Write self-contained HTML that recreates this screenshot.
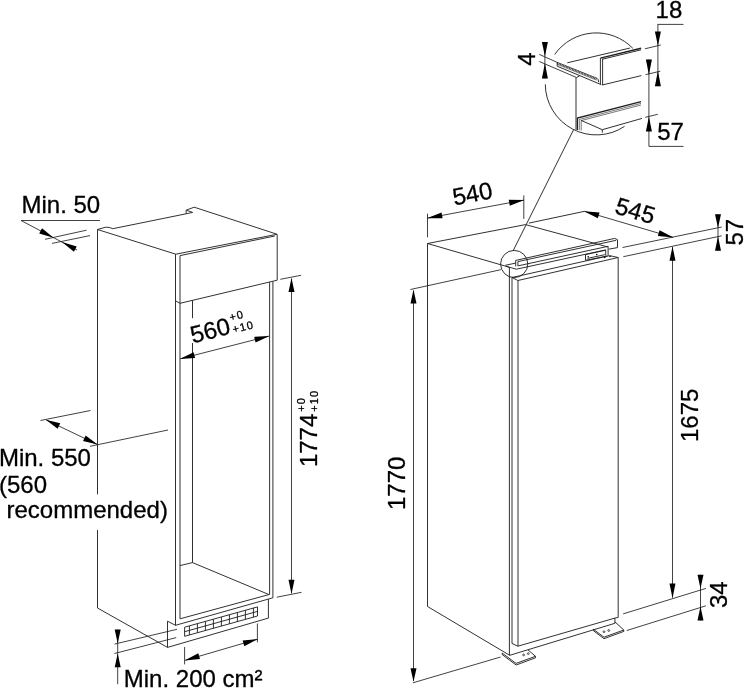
<!DOCTYPE html>
<html><head><meta charset="utf-8"><title>Installation dimensions</title>
<style>
html,body{margin:0;padding:0;background:#fff}
svg{display:block}
svg line,svg polyline,svg polygon,svg circle,svg path{stroke:#1e1e1e;stroke-width:0.92;fill:none;stroke-linecap:butt}
svg .d{stroke-width:0.84}
svg .a{fill:#000;stroke:none}
svg text{font-family:"Liberation Sans",Arial,Helvetica,sans-serif;font-size:24px;fill:#000;stroke:#000;stroke-width:0.3px;stroke-linejoin:round}
</style></head><body>
<svg width="744" height="688" viewBox="0 0 744 688" style="filter:grayscale(1)">
<rect x="0" y="0" width="744" height="688" fill="#fff" stroke="none"/>
<line x1="97.50" y1="229.50" x2="97.50" y2="494.40"/>
<line x1="97.50" y1="530.00" x2="97.50" y2="608.00"/>
<polyline points="97.50,229.50 105.80,227.20 109.20,227.40 112.80,228.70 186.10,213.80 186.10,210.20 194.20,207.20 276.90,234.20"/>
<polyline points="186.10,213.80 192.60,212.40 186.60,210.30"/>
<line x1="97.50" y1="229.50" x2="175.80" y2="254.20"/>
<line x1="175.80" y1="254.20" x2="276.90" y2="234.30"/>
<line x1="180.10" y1="255.60" x2="274.80" y2="236.00"/>
<line x1="277.20" y1="234.30" x2="277.20" y2="280.20"/>
<polyline points="175.80,301.00 180.10,303.30 277.20,280.20"/>
<line x1="175.50" y1="254.20" x2="175.50" y2="625.30"/>
<line x1="180.00" y1="255.60" x2="180.00" y2="618.80"/>
<line x1="269.60" y1="282.20" x2="269.60" y2="594.50"/>
<line x1="272.90" y1="281.40" x2="272.90" y2="597.80"/>
<line x1="192.50" y1="300.30" x2="192.50" y2="318.20"/>
<line x1="192.50" y1="343.00" x2="192.50" y2="562.60"/>
<line x1="180.00" y1="565.60" x2="192.50" y2="562.60"/>
<line x1="192.50" y1="562.60" x2="268.80" y2="594.50"/>
<line x1="180.00" y1="618.80" x2="269.60" y2="594.40"/>
<line x1="175.50" y1="625.30" x2="272.90" y2="597.80"/>
<polyline points="175.50,625.30 167.50,621.20 167.50,647.40"/>
<line x1="167.50" y1="647.40" x2="268.40" y2="618.10"/>
<line x1="268.40" y1="599.10" x2="268.40" y2="618.10"/>
<line x1="97.50" y1="608.00" x2="167.50" y2="647.40"/>
<polygon points="184.60,627.20 257.50,606.90 257.50,616.00 184.60,636.30"/>
<line x1="184.60" y1="631.70" x2="257.50" y2="611.40"/>
<line x1="189.40" y1="625.86" x2="189.40" y2="634.96"/>
<line x1="197.40" y1="623.64" x2="197.40" y2="632.74"/>
<line x1="205.40" y1="621.41" x2="205.40" y2="630.51"/>
<line x1="213.40" y1="619.18" x2="213.40" y2="628.28"/>
<line x1="221.40" y1="616.95" x2="221.40" y2="626.05"/>
<line x1="229.40" y1="614.72" x2="229.40" y2="623.82"/>
<line x1="237.40" y1="612.50" x2="237.40" y2="621.60"/>
<line x1="245.40" y1="610.27" x2="245.40" y2="619.37"/>
<line x1="253.40" y1="608.04" x2="253.40" y2="617.14"/>
<text x="21.50" y="212.50">Min. 50</text>
<line x1="21.00" y1="220.50" x2="100.00" y2="220.50" class="d"/>
<line x1="21.00" y1="220.50" x2="77.00" y2="250.00" class="d"/>
<polygon class="a" points="53.53,237.68 39.22,233.52 42.02,228.21"/>
<polygon class="a" points="61.97,242.12 76.72,246.52 73.92,251.82"/>
<line x1="45.00" y1="239.30" x2="86.50" y2="230.20" class="d"/>
<line x1="52.00" y1="243.40" x2="90.00" y2="235.60" class="d"/>
<line x1="180.30" y1="358.80" x2="268.90" y2="336.10" class="d"/>
<polygon class="a" points="179.72,358.95 193.60,352.30 195.09,358.11"/>
<polygon class="a" points="269.48,335.95 255.60,342.60 254.11,336.79"/>
<g transform="translate(192.80 343.50) rotate(-14.4)"><text x="0" y="0">560</text><text x="42.0" y="-12.3" style="font-size:11px;letter-spacing:1.1px">+0</text><text x="42.0" y="0.3" style="font-size:11px;letter-spacing:1.1px">+10</text></g>
<line x1="291.50" y1="278.50" x2="291.50" y2="593.30" class="d"/>
<polygon class="a" points="291.50,278.10 294.50,292.00 288.50,292.00"/>
<polygon class="a" points="291.50,593.90 288.50,579.80 294.50,579.80"/>
<line x1="280.30" y1="279.30" x2="301.10" y2="275.30" class="d"/>
<line x1="276.80" y1="597.20" x2="301.50" y2="592.30" class="d"/>
<g transform="translate(317.30 467.10) rotate(-90)"><text x="0" y="0">1774</text><text x="55.4" y="-12.6" style="font-size:11px;letter-spacing:1.1px">+0</text><text x="55.4" y="0.3" style="font-size:11px;letter-spacing:1.1px">+10</text></g>
<line x1="40.50" y1="420.50" x2="90.50" y2="410.50" class="d"/>
<line x1="90.00" y1="446.30" x2="168.00" y2="430.00" class="d"/>
<line x1="46.30" y1="420.00" x2="97.00" y2="444.30" class="d"/>
<polygon class="a" points="45.76,419.74 60.22,423.35 57.63,428.76"/>
<polygon class="a" points="97.54,444.56 83.08,440.95 85.67,435.54"/>
<text x="-1.10" y="465.80">Min. 550</text>
<text x="-1.00" y="493.10">(560</text>
<text x="6.50" y="517.70">recommended)</text>
<line x1="114.50" y1="644.10" x2="177.00" y2="629.30" class="d"/>
<line x1="114.50" y1="653.50" x2="176.20" y2="637.60" class="d"/>
<line x1="117.70" y1="629.60" x2="117.70" y2="684.20" class="d"/>
<polygon class="a" points="117.70,643.50 114.70,629.60 120.70,629.60"/>
<polygon class="a" points="117.70,653.40 120.70,667.30 114.70,667.30"/>
<line x1="184.60" y1="647.00" x2="184.60" y2="664.40" class="d"/>
<line x1="257.40" y1="623.50" x2="257.40" y2="642.30" class="d"/>
<line x1="185.20" y1="660.30" x2="257.40" y2="639.20" class="d"/>
<polygon class="a" points="184.62,660.47 198.28,653.35 199.96,659.11"/>
<polygon class="a" points="257.98,639.03 244.32,646.15 242.64,640.39"/>
<text x="123.80" y="686.60">Min. 200 cm²</text>
<line x1="427.50" y1="243.50" x2="427.50" y2="606.50"/>
<line x1="427.50" y1="243.50" x2="525.50" y2="224.60"/>
<line x1="528.90" y1="223.10" x2="584.60" y2="211.30"/>
<line x1="427.50" y1="243.50" x2="509.50" y2="267.30"/>
<line x1="525.50" y1="224.60" x2="607.60" y2="246.90"/>
<line x1="427.50" y1="606.50" x2="509.70" y2="655.30"/>
<line x1="509.40" y1="267.50" x2="509.40" y2="655.30"/>
<line x1="512.00" y1="277.40" x2="512.00" y2="643.40"/>
<line x1="518.00" y1="280.50" x2="518.00" y2="646.20"/>
<line x1="618.20" y1="257.50" x2="618.20" y2="617.40"/>
<polyline points="618.20,257.50 517.90,280.50 512.00,277.50 609.50,255.60 618.20,257.50"/>
<polyline points="515.70,266.40 515.70,260.40 614.70,238.40 617.50,239.70 617.50,247.60 608.60,249.20"/>
<line x1="517.90" y1="261.60" x2="616.10" y2="240.30"/>
<line x1="517.90" y1="261.60" x2="517.90" y2="265.90"/>
<line x1="517.90" y1="265.90" x2="608.10" y2="246.30"/>
<line x1="608.10" y1="246.30" x2="608.10" y2="255.10"/>
<line x1="505.30" y1="265.30" x2="515.70" y2="263.10"/>
<line x1="506.10" y1="266.30" x2="516.30" y2="269.20"/>
<line x1="516.30" y1="269.20" x2="605.70" y2="249.90"/>
<line x1="605.70" y1="249.90" x2="605.70" y2="255.60"/>
<polyline points="585.50,254.60 585.50,260.30 607.60,256.00"/>
<line x1="585.50" y1="254.60" x2="605.70" y2="250.20"/>
<line x1="587.40" y1="258.40" x2="604.80" y2="254.70"/>
<circle cx="588.2" cy="256.7" r="0.8" class="a"/>
<circle cx="596.8" cy="254.6" r="0.8" class="a"/>
<circle cx="604.8" cy="257.4" r="0.8" class="a"/>
<circle cx="610" cy="256.5" r="0.8" class="a"/>
<line x1="511.90" y1="643.40" x2="517.90" y2="646.20"/>
<line x1="517.90" y1="646.20" x2="614.90" y2="618.10"/>
<line x1="509.70" y1="655.30" x2="614.90" y2="623.30"/>
<polyline points="618.20,617.40 614.90,618.10 614.90,623.30"/>
<polyline points="502.20,653.10 516.10,663.40 535.50,656.30 528.00,649.90"/>
<polyline points="502.20,653.10 502.20,654.60 516.10,665.00 535.50,657.80 535.50,656.30"/>
<circle cx="523.6" cy="654.9" r="0.9" style="stroke-width:0.8"/>
<circle cx="528.3" cy="653.6" r="0.9" style="stroke-width:0.8"/>
<polyline points="593.40,629.30 604.00,637.20 623.80,630.00 614.90,621.80"/>
<polyline points="593.40,629.30 593.40,630.70 604.00,638.70 623.80,631.40 623.80,630.00"/>
<circle cx="604" cy="631.7" r="0.9" style="stroke-width:0.8"/>
<circle cx="608.7" cy="630.5" r="0.9" style="stroke-width:0.8"/>
<circle cx="514.2" cy="264" r="13.6"/>
<line x1="513.30" y1="250.40" x2="573.70" y2="129.50"/>
<line x1="427.50" y1="213.70" x2="427.50" y2="237.30" class="d"/>
<line x1="523.80" y1="195.30" x2="523.80" y2="219.00" class="d"/>
<line x1="427.50" y1="218.10" x2="523.80" y2="200.10" class="d"/>
<polygon class="a" points="426.91,218.21 441.50,212.44 442.60,218.34"/>
<polygon class="a" points="524.39,199.99 509.80,205.76 508.70,199.86"/>
<text transform="translate(454.20 205.40) rotate(-10.6)">540</text>
<line x1="584.50" y1="211.30" x2="672.90" y2="237.40" class="d"/>
<polygon class="a" points="583.92,211.13 599.54,212.61 597.84,218.37"/>
<polygon class="a" points="673.48,237.57 657.86,236.09 659.56,230.33"/>
<text transform="translate(613.80 212.90) rotate(16.4)">545</text>
<line x1="622.50" y1="247.50" x2="721.70" y2="227.00" class="d"/>
<line x1="623.30" y1="256.70" x2="721.70" y2="235.80" class="d"/>
<line x1="718.00" y1="214.20" x2="718.00" y2="250.80" class="d"/>
<polygon class="a" points="718.00,228.10 715.00,214.20 721.00,214.20"/>
<polygon class="a" points="718.00,236.40 721.00,250.80 715.00,250.80"/>
<text transform="translate(743.30 245.50) rotate(-90)">57</text>
<line x1="672.50" y1="247.00" x2="672.50" y2="597.60" class="d"/>
<polygon class="a" points="672.50,246.40 675.50,260.80 669.50,260.80"/>
<polygon class="a" points="672.50,598.20 669.50,583.60 675.50,583.60"/>
<text transform="translate(698.40 442.00) rotate(-90)">1675</text>
<line x1="623.10" y1="613.90" x2="705.90" y2="588.40" class="d"/>
<line x1="626.80" y1="630.50" x2="705.90" y2="605.80" class="d"/>
<line x1="700.50" y1="574.80" x2="700.50" y2="620.60" class="d"/>
<polygon class="a" points="700.50,588.60 697.50,574.80 703.50,574.80"/>
<polygon class="a" points="700.50,606.40 703.50,620.60 697.50,620.60"/>
<text transform="translate(727.00 608.00) rotate(-90)">34</text>
<line x1="413.50" y1="290.80" x2="413.50" y2="681.00" class="d"/>
<polygon class="a" points="413.50,289.60 416.50,303.60 410.50,303.60"/>
<polygon class="a" points="413.50,681.80 410.50,668.20 416.50,668.20"/>
<line x1="410.40" y1="289.50" x2="500.80" y2="269.70" class="d"/>
<line x1="412.90" y1="682.80" x2="500.60" y2="657.00" class="d"/>
<text transform="translate(405.00 510.00) rotate(-90)">1770</text>
<path d="M554.69 54.41 A51.0 51.0 0 0 1 632.90 48.38"/>
<path d="M545.30 84.31 A51.0 51.0 0 0 0 624.54 126.37"/>
<text x="655.60" y="17.80">18</text>
<line x1="657.50" y1="24.40" x2="683.50" y2="24.40" class="d"/>
<line x1="657.90" y1="24.40" x2="657.90" y2="86.30" class="d"/>
<polygon class="a" points="657.90,45.80 654.90,31.60 660.90,31.60"/>
<polygon class="a" points="657.90,71.10 660.90,86.30 654.90,86.30"/>
<line x1="644.90" y1="48.80" x2="660.80" y2="45.00" class="d"/>
<line x1="645.50" y1="74.70" x2="660.30" y2="71.20" class="d"/>
<line x1="648.90" y1="59.50" x2="648.90" y2="146.40" class="d"/>
<line x1="648.90" y1="146.40" x2="683.50" y2="146.40" class="d"/>
<polygon class="a" points="648.90,74.70 645.90,59.50 651.90,59.50"/>
<polygon class="a" points="648.90,116.40 651.90,131.50 645.90,131.50"/>
<line x1="645.30" y1="117.30" x2="657.80" y2="114.30" class="d"/>
<text x="657.20" y="139.60">57</text>
<text transform="translate(534.50 65.70) rotate(-90)">4</text>
<line x1="544.90" y1="42.10" x2="544.90" y2="78.60" class="d"/>
<polygon class="a" points="544.90,56.20 541.90,42.10 547.90,42.10"/>
<polygon class="a" points="544.90,63.30 547.90,78.60 541.90,78.60"/>
<line x1="539.30" y1="54.40" x2="557.20" y2="62.40" class="d"/>
<line x1="539.30" y1="61.50" x2="576.50" y2="77.50" class="d"/>
<line x1="557.20" y1="62.40" x2="597.10" y2="78.40"/>
<line x1="557.20" y1="64.40" x2="596.60" y2="80.20" style="stroke-width:0.5;"/>
<line x1="557.30" y1="63.30" x2="596.80" y2="79.20" style="stroke-width:1.4;stroke:#aaa;"/>
<line x1="557.3" y1="63.3" x2="596.8" y2="79.2" style="stroke-width:1.7;stroke:#222;stroke-dasharray:0.6 1.0"/>
<line x1="557.20" y1="62.40" x2="557.20" y2="66.20"/>
<line x1="557.20" y1="66.20" x2="601.30" y2="84.70"/>
<line x1="576.50" y1="77.50" x2="579.70" y2="75.80"/>
<path d="M597.1 78.4 Q598.6 79.2 598.6 82.2" fill="none"/>
<line x1="567.30" y1="62.80" x2="630.10" y2="48.00"/>
<line x1="600.40" y1="58.10" x2="600.40" y2="84.40"/>
<line x1="602.60" y1="58.60" x2="602.60" y2="85.00"/>
<line x1="600.40" y1="58.10" x2="641.10" y2="48.30" style="stroke-width:1.4;"/>
<line x1="602.60" y1="59.20" x2="641.10" y2="49.80"/>
<line x1="602.20" y1="85.00" x2="641.40" y2="75.60"/>
<line x1="576.00" y1="77.50" x2="576.00" y2="129.80"/>
<polyline points="577.40,129.90 577.40,118.10 641.00,101.70" style="stroke-width:1.3"/>
<polyline points="579.30,130.20 579.30,119.50 641.00,103.40" style="stroke-width:0.6"/>
<polyline points="581.20,130.60 581.20,120.60 641.00,105.00" style="stroke-width:0.6"/>
<polyline points="581.10,120.40 602.30,129.70 642.00,118.40"/>
<line x1="602.30" y1="129.70" x2="602.30" y2="132.70"/>
</svg>
</body></html>
